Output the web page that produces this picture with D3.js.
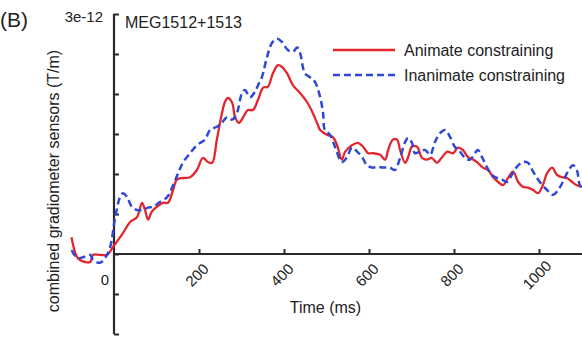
<!DOCTYPE html>
<html><head><meta charset="utf-8">
<script src="https://cdn.jsdelivr.net/npm/d3@7/dist/d3.min.js"></script>
<style>
html,body{margin:0;padding:0;background:#fff;overflow:hidden}
svg{display:block;font-family:"Liberation Sans",Arial,sans-serif}
</style></head><body>
<svg id="chart" width="582" height="339"></svg>
<script>
// Values in units of 1e-12 T/m
const animateTime = [-100,-88,-80,-68,-56,-49,-33,-16,-2,21,38,54,66,73,80,89,101,115,127,139,148,162,179,195,209,221,231,242,254,261,268,278,285,294,304,315,327,339,351,362,374,386,395,407,421,438,454,468,480,485,501,515,525,536,544,560,574,586,598,609,626,638,645,656,666,673,685,692,701,713,725,736,748,760,772,784,798,809,821,833,845,856,868,880,892,904,915,927,939,951,962,974,986,998,1009,1019,1031,1042,1054,1066,1078,1089,1101];
const animateValues = [0.21,-0.03,-0.075,-0.10,-0.10,-0.01,-0.01,-0.01,0.09,0.26,0.40,0.46,0.64,0.55,0.43,0.53,0.59,0.64,0.64,0.80,0.93,0.95,0.96,1.05,1.20,1.15,1.14,1.43,1.76,1.90,1.95,1.89,1.71,1.64,1.71,1.80,1.80,1.93,2.08,2.09,2.26,2.36,2.34,2.26,2.11,2.01,1.90,1.76,1.61,1.55,1.49,1.46,1.36,1.18,1.28,1.36,1.39,1.34,1.26,1.26,1.24,1.18,1.30,1.43,1.43,1.30,1.14,1.21,1.34,1.34,1.20,1.18,1.20,1.14,1.21,1.28,1.26,1.33,1.30,1.21,1.18,1.14,1.08,1.05,0.96,0.90,0.86,0.95,1.03,0.90,0.84,0.83,0.80,0.76,0.86,1.01,1.08,0.99,0.96,0.95,0.90,0.86,0.84];
const inanimateTime = [-99,-96,-85,-73,-56,-49,-33,-21,-9,2,14,21,31,42,54,68,80,92,108,125,139,151,162,179,195,214,226,242,254,266,278,289,301,308,320,332,339,348,360,372,384,395,409,421,431,438,449,461,473,485,492,496,508,520,536,548,560,572,584,595,607,621,633,649,661,673,685,692,701,708,720,732,744,755,767,779,791,802,814,826,838,849,856,866,878,889,901,913,925,936,948,962,974,986,1002,1019,1033,1045,1056,1068,1080,1089,1096,1101];
const inanimateValues = [0.05,0.01,-0.05,-0.04,-0.01,-0.075,-0.11,-0.05,0.09,0.43,0.71,0.76,0.71,0.59,0.55,0.55,0.58,0.59,0.65,0.71,0.86,1.01,1.14,1.26,1.36,1.43,1.55,1.59,1.64,1.71,1.68,1.76,2.01,2.05,1.96,2.03,2.11,2.21,2.46,2.64,2.69,2.65,2.55,2.53,2.58,2.51,2.26,2.21,2.15,1.96,1.76,1.55,1.49,1.34,1.15,1.21,1.33,1.28,1.21,1.11,1.08,1.09,1.08,1.08,1.05,1.20,1.40,1.45,1.39,1.26,1.28,1.30,1.24,1.40,1.51,1.55,1.46,1.34,1.28,1.20,1.18,1.26,1.30,1.21,1.08,0.99,0.95,0.93,0.90,0.99,1.09,1.15,1.14,1.03,0.90,0.80,0.74,0.80,0.90,1.03,1.11,1.05,0.86,0.83];
const xTickValues = [200,400,600,800,1000];
const yTickValues = [-1,-0.5,0,0.5,1,1.5,2,2.5,3];
const seriesNames = ["Animate constraining","Inanimate constraining"];
const seriesColors = ["#e3262d","#2f48d6"];
const titleText = "MEG1512+1513";
const panelLabel = "(B)";
const yTopLabel = "3e-12";
const xLabel = "Time (ms)";
const yLabel = "combined gradiometer sensors (T/m)";

const svg = d3.select("#chart");
const x = d3.scaleLinear().domain([-100,1100]).range([71.5,581.5]);
const y = d3.scaleLinear().domain([-1,3]).range([334,14]);
const axisColor = "#2a2a2a";

const line = d3.line().x(d=>x(d[0])).y(d=>y(d[1])).curve(d3.curveCatmullRom.alpha(0.5));
const animate = animateTime.map((t,i)=>[t,animateValues[i]]);
const inanimate = inanimateTime.map((t,i)=>[t,inanimateValues[i]]);

// x axis (at y=0), ticks upward
const xAxis = d3.axisTop(x).tickValues(xTickValues).tickSize(5).tickFormat("");
const gx = svg.append("g").attr("transform",`translate(0,${y(0)})`).call(xAxis);
gx.select(".domain").attr("d",`M${x(0)},0H582`).attr("stroke",axisColor).attr("stroke-width",2);
gx.selectAll(".tick line").attr("stroke",axisColor).attr("stroke-width",2);

// y axis at x=0, ticks to the right
const yAxis = d3.axisRight(y).tickValues(yTickValues).tickSize(5).tickFormat("");
const gy = svg.append("g").attr("transform",`translate(${x(0)},0)`).call(yAxis);
gy.select(".domain").attr("d",`M0,${y(-1)}V${y(3)}`).attr("stroke",axisColor).attr("stroke-width",2.2);
gy.selectAll(".tick line").attr("stroke",axisColor).attr("stroke-width",2);

svg.append("path").datum(animate).attr("d",line).attr("fill","none")
  .attr("stroke",seriesColors[0]).attr("stroke-width",2.3).attr("stroke-linejoin","round");
svg.append("path").datum(inanimate).attr("d",line).attr("fill","none")
  .attr("stroke",seriesColors[1]).attr("stroke-width",2.5).attr("stroke-dasharray","7,4");

// x tick labels rotated
svg.append("g").selectAll("text").data(xTickValues).join("text")
  .attr("transform",d=>`translate(${x(d)-2},${275}) rotate(-45)`)
  .attr("text-anchor","middle").attr("dy","0.35em")
  .attr("font-size",15).attr("fill","#222").text(d=>d);
svg.append("text").attr("x",105).attr("y",285).attr("text-anchor","middle")
  .attr("font-size",15).attr("fill","#222").text("0");

svg.append("text").attr("x",x(500)-1).attr("y",313).attr("text-anchor","middle")
  .attr("font-size",16).attr("fill","#222").text(xLabel);
svg.append("text").attr("transform","translate(59,181) rotate(-90)").attr("text-anchor","middle")
  .attr("font-size",16).attr("fill","#222").text(yLabel);
svg.append("text").attr("x",103).attr("y",22).attr("text-anchor","end")
  .attr("font-size",15).attr("fill","#222").text(yTopLabel);
svg.append("text").attr("x",125).attr("y",28)
  .attr("font-size",16).attr("fill","#222").text(titleText);
svg.append("text").attr("x",0).attr("y",27)
  .attr("font-size",21).attr("fill","#222").text(panelLabel);

// legend
const leg = svg.append("g");
seriesNames.forEach((n,i)=>{
  const yy = 50 + i*25;
  leg.append("line").attr("x1",333).attr("x2",395).attr("y1",yy).attr("y2",yy)
    .attr("stroke",seriesColors[i]).attr("stroke-width",2.4)
    .attr("stroke-dasharray", i===1 ? "7,4" : null);
  leg.append("text").attr("x",404).attr("y",yy+5.5).attr("font-size",16).attr("fill","#222").text(n);
});
</script>
</body></html>
